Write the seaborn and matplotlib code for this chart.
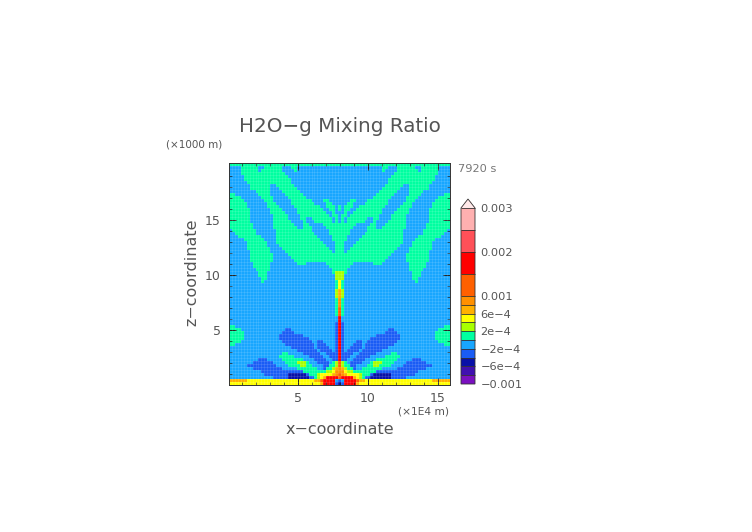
import re
import numpy as np
import matplotlib
matplotlib.use("Agg")
import matplotlib.pyplot as plt
from matplotlib.colors import ListedColormap, BoundaryNorm
import seaborn as sns

# contour levels and band colours
levels = [-0.001, -8e-4, -6e-4, -4e-4, -2e-4, 0, 2e-4, 4e-4, 6e-4, 8e-4, 0.001, 0.0015, 0.002, 0.0025, 0.003]
band_colors = ["#7a10c0", "#4010b0", "#0810a8", "#1a5cf5", "#18a6ff", "#00ffa0", "#a8ff00",
               "#ffff00", "#ffb000", "#ff9000", "#ff6000", "#ff0000", "#ff5058", "#ffb0b0"]
over_color = "#ffe8e8"
cbar_ticks = [0.003, 0.002, 0.001, 6e-4, 2e-4, -2e-4, -6e-4, -0.001]
cbar_labels = ["0.003", "0.002", "0.001", "6e\u22124", "2e\u22124", "\u22122e\u22124", "\u22126e\u22124", "\u22120.001"]

x_min, x_max = 0.07, 15.86   # x 1E4 m
z_min, z_max = 0.0, 20.2     # x 1000 m
band_codes = "abcdefghijklmn"

# left half of the field, top row first, run-length coded band letters
# (a = lowest band ... n = highest, rest of a row is the background band e)
half_rows = [
    "38f", "4e6f2e6f3e2f", "4e6f1e7f4e1f", "4e15f", "5e15f", "5e16f", "6e15f", "7e7f2e6f",
    "7e7f3e6f", "9e5f4e6f", "2f8e4f5e6f", "4f7e4f5e6f", "5f7e3f6e7f4e2f", "6f7e3f5e8f4e2f",
    "6f7e4f5e9f2e3f1e1f", "7f7e4f5e9f2e2f1e1f", "7f7e5f4e10f2e1f", "7f8e5f4e10f1e2f",
    "7f8e5f4e2f2e7f1e1f", "7f8e6f4e1f3e6f1e1f1e", "8f7e7f3e2f5e6f", "8f7e8f2e3f5e5f",
    "1e8f7e12f6e4f", "2e7f7e13f5e4f", "3e8f5e14f5e3f", "5e7f4e15f4e3f", "6e7f3e16f4e2f",
    "6e7f4e16f3e2f", "6e8f4e16f2e2f", "7e7f5e16f1e2f", "7e8f5e18f", "7e8f6e17f", "7e8f7e16f",
    "8e6f9e3f7e5f", "8e6f20e4f", "9e5f21e3f", "10e3f22e1f2g", "10e3f23e2g", "11e2f23e2g",
    "11e1f24e1f1h", "36e1f1h", "36e1f1h", "36e1g1i", "36e1g1i", "36e1g1i", "36e1f1j", "36e1f1j",
    "36e1f1j", "36e1f1k", "36e1f1k", "36e1f1k", "37e1l", "37e1l", "36e1d1l", "2f34e1d1l",
    "4f15e2d15e1d1l", "5f13e4d14e1d1l", "5f12e8d11e1d1l", "5f12e10d9e1d1l", "4f14e10d2e2d4e1d1l",
    "2f17e10d1e3d3e1d1l", "21e8d1e4d2e1d1l", "23e7d1e4d1e1d1l", "18e2f5e6d2e4d1l",
    "17e5f5e5d2e3d1l", "10e3d5e7f4e4d2e2d1l", "8e7d4e4f3g1f3e4d1e1f1g1k", "6e10d4e4f2g2f4e2d2f1g1k",
    "8e10d5e7f2e1d2f1g1i1j", "11e14d8f2g1h2j", "12e8d6c1d3f1g4h1i1j1k", "15e5d7c2d1f1g1h1i4l1k",
    "6i23h2i1k4l1e1d", "31h1i4l1d1c",
]
half_width = 38

# --- build the field from the coded rows, mirrored about the plume ---
mid_values = [(levels[i] + levels[i + 1]) / 2 for i in range(len(band_codes))]
field = []
for row in half_rows:
    cells = []
    for count, code in re.findall(r"(\d+)([a-n])", row):
        cells += [mid_values[band_codes.index(code)]] * int(count)
    cells += [mid_values[4]] * (half_width - len(cells))
    field.append(cells[:half_width] + cells[:half_width - 1][::-1])
field = np.array(field)
n_rows, n_cols = field.shape

W, H = 752, 532
fig = plt.figure(figsize=(W / 100, H / 100), dpi=100, facecolor="white")
ax = fig.add_axes([229 / W, 1 - 385 / H, 221 / W, 222 / H])
cax = fig.add_axes([461 / W, 1 - 384 / H, 14 / W, 185 / H])

cmap = ListedColormap(band_colors)
cmap.set_over(over_color)
norm = BoundaryNorm(levels, len(band_colors))
sns.heatmap(field, ax=ax, cbar_ax=cax, cmap=cmap, norm=norm, xticklabels=False, yticklabels=False,
            cbar_kws={"extend": "max", "extendfrac": 0.051, "spacing": "proportional",
                      "ticks": cbar_ticks, "drawedges": True})

# faint cell lines like the model grid in the original
ax.vlines(np.arange(1, n_cols), 0, n_rows, color="white", lw=0.5, alpha=0.15)
ax.hlines(np.arange(1, n_rows), 0, n_cols, color="white", lw=0.5, alpha=0.15)

# axis ticks, converted from coordinates to heatmap cells
text_color = "#555555"
x_cell = lambda v: (np.asarray(v, dtype=float) - x_min) / (x_max - x_min) * n_cols
z_cell = lambda v: (z_max - np.asarray(v, dtype=float)) / (z_max - z_min) * n_rows
x_major, z_major = [5, 10, 15], [5, 10, 15]
ax.set_xticks(x_cell(x_major))
ax.set_xticklabels([str(v) for v in x_major], fontsize=9, color=text_color)
ax.set_xticks(x_cell(np.arange(1, 16)), minor=True)
ax.set_yticks(z_cell(z_major))
ax.set_yticklabels([str(v) for v in z_major], fontsize=9, color=text_color, rotation=0)
ax.set_yticks(z_cell(np.arange(1, 20)), minor=True)
ax.tick_params(which="major", direction="in", length=5, width=0.7, top=True, right=True,
               bottom=True, left=True, color="#222222")
ax.tick_params(axis="x", which="major", pad=5)
ax.tick_params(axis="y", which="major", pad=6)
ax.tick_params(which="minor", direction="in", length=2.5, width=0.5, top=True, right=True,
               bottom=True, left=True, color="#222222")
for spine in ax.spines.values():
    spine.set_visible(True)
    spine.set_linewidth(0.7)
    spine.set_color("#333333")

# colour bar
cbar = ax.collections[0].colorbar
cbar.set_ticklabels(cbar_labels)
cbar.minorticks_off()
cax.tick_params(which="both", length=0, labelsize=8.2, labelcolor=text_color, pad=4)
cbar.outline.set_visible(True)
cbar.outline.set_linewidth(0.6)
cbar.outline.set_edgecolor("#333333")
cbar.dividers.set_linewidth(0.6)
cbar.dividers.set_color("#333333")

# text placed in figure pixels
def put(px, py, s, size, **kw):
    fig.text(px / W, 1 - py / H, s, fontsize=size, color=kw.pop("color", text_color),
             ha=kw.pop("ha", "center"), va="center", **kw)

put(339.5, 127, "H2O\u2212g Mixing Ratio", 14.3)
put(194, 145, "(\u00d71000 m)", 7.5)
put(477, 169, "7920 s", 8.2, color="#777777")
put(424, 411, "(\u00d71E4 m)", 7.7)
put(339.5, 430, "x\u2212coordinate", 11.5)
put(192, 272, "z\u2212coordinate", 11.5, rotation=90)

plt.savefig("out.png", dpi=100)
